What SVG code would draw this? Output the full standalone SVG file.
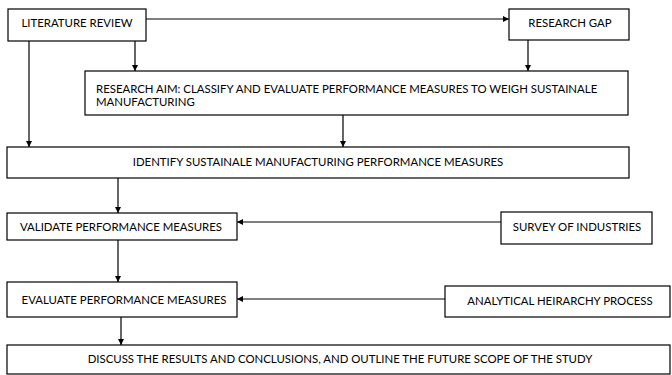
<svg xmlns="http://www.w3.org/2000/svg" width="672" height="375" viewBox="0 0 672 375">
<style>
.box{fill:#fff;stroke:#000;stroke-width:1.2}
.t{font-family:Lato,"Liberation Sans",sans-serif;font-size:11.4px;fill:#000}
.c{text-anchor:middle}
.ln{stroke:#000;stroke-width:1.2;fill:none;marker-end:url(#ah)}
</style>
<defs>
<marker id="ah" viewBox="0 0 10 10" refX="10" refY="5" markerWidth="6" markerHeight="6" markerUnits="userSpaceOnUse" orient="auto">
<path d="M0,0 L10,5 L0,10 z" fill="#000"/>
</marker>
</defs>
<rect width="672" height="375" fill="#fff"/>
<g id="connectors">
<line class="ln" x1="146" y1="19" x2="509" y2="19"/>
<line class="ln" x1="135" y1="41" x2="135" y2="71"/>
<line class="ln" x1="528" y1="40" x2="528" y2="71"/>
<line class="ln" x1="29" y1="41" x2="29" y2="147"/>
<line class="ln" x1="343" y1="115" x2="343" y2="147"/>
<line class="ln" x1="118" y1="178" x2="118" y2="213"/>
<line class="ln" x1="501" y1="222" x2="237" y2="222"/>
<line class="ln" x1="118" y1="240" x2="118" y2="282"/>
<line class="ln" x1="445" y1="299" x2="237" y2="299"/>
<line class="ln" x1="121" y1="317" x2="121" y2="345"/>
</g>
<g id="literature-review">
<rect class="box" x="8" y="9" width="138" height="32"/>
<text class="t c" x="77" y="27">LITERATURE REVIEW</text>
</g>
<g id="research-gap">
<rect class="box" x="509" y="9" width="120" height="31"/>
<text class="t c" x="570" y="27">RESEARCH GAP</text>
</g>
<g id="research-aim">
<rect class="box" x="85" y="71" width="543" height="44"/>
<text class="t" x="96" y="93">RESEARCH AIM: CLASSIFY AND EVALUATE PERFORMANCE MEASURES TO WEIGH SUSTAINALE</text>
<text class="t" x="96" y="106">MANUFACTURING</text>
</g>
<g id="identify">
<rect class="box" x="7" y="147" width="622" height="31"/>
<text class="t c" x="318" y="166">IDENTIFY SUSTAINALE MANUFACTURING PERFORMANCE MEASURES</text>
</g>
<g id="validate">
<rect class="box" x="7" y="213" width="230" height="27"/>
<text class="t c" x="121" y="231">VALIDATE PERFORMANCE MEASURES</text>
</g>
<g id="survey">
<rect class="box" x="501" y="212" width="151" height="32"/>
<text class="t c" x="577" y="231">SURVEY OF INDUSTRIES</text>
</g>
<g id="evaluate">
<rect class="box" x="7" y="282" width="230" height="35"/>
<text class="t c" x="124" y="304">EVALUATE PERFORMANCE MEASURES</text>
</g>
<g id="ahp">
<rect class="box" x="445" y="286" width="225" height="31"/>
<text class="t c" x="560" y="305">ANALYTICAL HEIRARCHY PROCESS</text>
</g>
<g id="discuss">
<rect class="box" x="7" y="345" width="663" height="29"/>
<text class="t c" x="340" y="363">DISCUSS THE RESULTS AND CONCLUSIONS, AND OUTLINE THE FUTURE SCOPE OF THE STUDY</text>
</g>
</svg>
